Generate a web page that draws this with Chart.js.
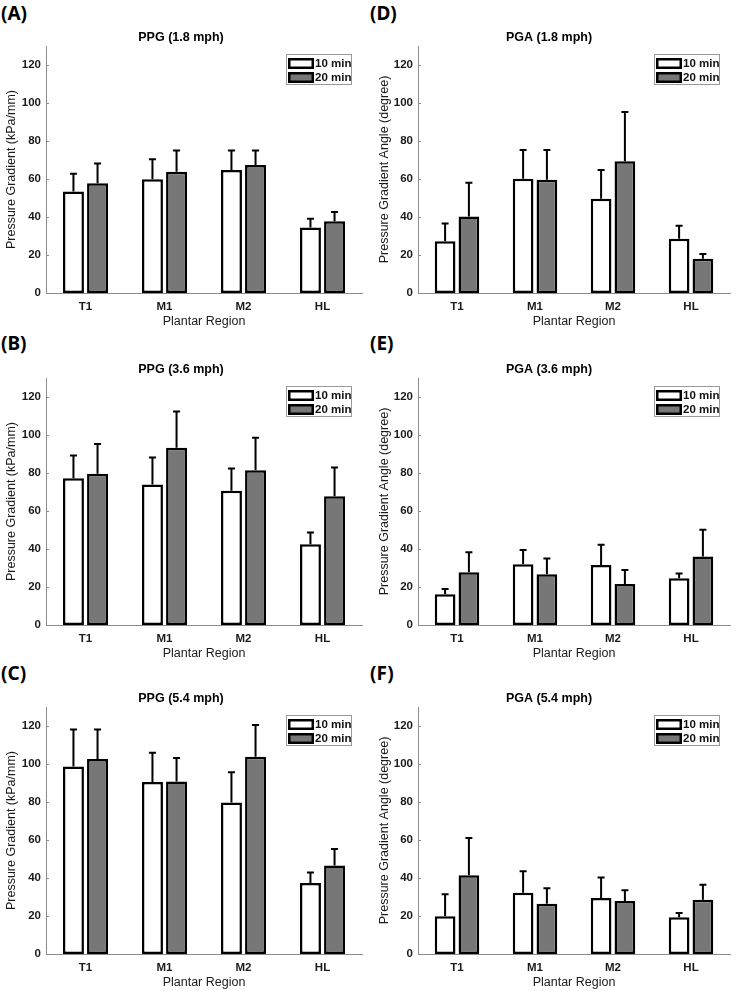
<!DOCTYPE html>
<html>
<head>
<meta charset="utf-8">
<script src="https://cdn.jsdelivr.net/npm/chart.js@4.4.1/dist/chart.umd.min.js"></script>
<style>
  html, body { margin: 0; padding: 0; background: #fff; }
  #page { position: relative; width: 736px; height: 991px; overflow: hidden; }
  .tag { position: absolute; font-family: 'Noto Sans', sans-serif; font-weight: bold; font-size: 19px; line-height: 22px; color: #000; }
  .panel { position: absolute; width: 368px; height: 306px; }
</style>
</head>
<body>
<div id="page">
  <div class="tag" style="left:1px;top:2px">(A)</div>
  <div class="tag" style="left:370px;top:2px">(D)</div>
  <div class="tag" style="left:1px;top:332px">(B)</div>
  <div class="tag" style="left:370px;top:332px">(E)</div>
  <div class="tag" style="left:1px;top:662px">(C)</div>
  <div class="tag" style="left:370px;top:662px">(F)</div>
  <div class="panel" style="left:0;top:24px"><canvas id="ppg18"></canvas></div>
  <div class="panel" style="left:368px;top:24px"><canvas id="pga18"></canvas></div>
  <div class="panel" style="left:0;top:356px"><canvas id="ppg36"></canvas></div>
  <div class="panel" style="left:368px;top:356px"><canvas id="pga36"></canvas></div>
  <div class="panel" style="left:0;top:685px"><canvas id="ppg54"></canvas></div>
  <div class="panel" style="left:368px;top:685px"><canvas id="pga54"></canvas></div>
</div>
<script>
const regions = ['T1', 'M1', 'M2', 'HL'];
const seriesNames = ['10 min', '20 min'];

// PPG (kPa/mm), mean and SD
const ppg18_10 = [53.4, 59.9, 64.8, 34.5];
const ppg18_10sd = [9.3, 10.5, 10.2, 4.6];
const ppg18_20 = [57.8, 63.8, 67.4, 37.8];
const ppg18_20sd = [10.4, 11.2, 7.6, 4.8];

const ppg36_10 = [77.3, 74.0, 70.6, 42.5];
const ppg36_10sd = [11.9, 14.2, 11.8, 6.2];
const ppg36_20 = [79.6, 93.3, 81.5, 67.8];
const ppg36_20sd = [15.6, 19.1, 17.1, 15.1];

const ppg54_10 = [98.7, 90.5, 79.8, 37.4];
const ppg54_10sd = [19.5, 15.4, 15.8, 5.5];
const ppg54_20 = [102.6, 90.8, 103.8, 46.6];
const ppg54_20sd = [15.6, 12.3, 16.7, 8.6];

// PGA (degree), mean and SD
const pga18_10 = [27.2, 60.1, 49.6, 28.6];
const pga18_10sd = [9.4, 15.1, 15.2, 6.8];
const pga18_20 = [40.3, 59.6, 69.4, 18.0];
const pga18_20sd = [17.7, 15.6, 25.9, 2.5];

const pga36_10 = [16.2, 32.0, 31.6, 24.6];
const pga36_10sd = [2.8, 7.5, 10.6, 2.5];
const pga36_20 = [27.8, 26.7, 21.6, 36.0];
const pga36_20sd = [10.5, 8.3, 7.4, 14.1];

const pga54_10 = [19.9, 32.2, 29.5, 19.3];
const pga54_10sd = [11.5, 11.4, 10.7, 2.3];
const pga54_20 = [41.5, 26.4, 27.9, 28.6];
const pga54_20sd = [19.5, 8.2, 5.7, 7.8];

const FONT = "'Liberation Sans', Arial, sans-serif";
const AXIS_GRAY = '#8c8c8c';

// error bars: upward only, with a small cap
const errorBars = {
  id: 'errorBars',
  afterDatasetsDraw(chart) {
    const ctx = chart.ctx;
    const y = chart.scales.y;
    ctx.save();
    ctx.strokeStyle = '#000';
    ctx.lineWidth = 2;
    chart.data.datasets.forEach((ds, i) => {
      chart.getDatasetMeta(i).data.forEach((bar, j) => {
        const top = y.getPixelForValue(ds.data[j] + ds.sd[j]);
        ctx.beginPath();
        ctx.moveTo(bar.x, bar.y);
        ctx.lineTo(bar.x, top);
        ctx.moveTo(bar.x - 3.5, top);
        ctx.lineTo(bar.x + 3.5, top);
        ctx.stroke();
      });
    });
    ctx.restore();
  }
};

// inward tick marks on the y axis (matlab style)
const innerTicks = {
  id: 'innerTicks',
  afterDraw(chart) {
    const ctx = chart.ctx;
    const y = chart.scales.y;
    const left = chart.chartArea.left;
    ctx.save();
    ctx.strokeStyle = AXIS_GRAY;
    ctx.lineWidth = 1;
    y.ticks.forEach((t, i) => {
      const py = Math.round(y.getPixelForTick(i)) + 0.5;
      ctx.beginPath();
      ctx.moveTo(left, py);
      ctx.lineTo(left + 3, py);
      ctx.stroke();
    });
    ctx.restore();
  }
};

// boxed legend in the top right corner of the plot
const boxLegend = {
  id: 'boxLegend',
  afterDraw(chart) {
    const ctx = chart.ctx;
    const a = chart.chartArea;
    const w = 66, h = 31;
    const x0 = a.right - 10 - w;
    const y0 = a.top + 8;
    ctx.save();
    ctx.fillStyle = '#fff';
    ctx.fillRect(x0, y0, w, h);
    ctx.strokeStyle = '#9a9a9a';
    ctx.lineWidth = 1;
    ctx.strokeRect(x0 + 0.5, y0 + 0.5, w - 1, h - 1);
    chart.data.datasets.forEach((ds, i) => {
      const sy = y0 + 4 + i * 14;
      ctx.fillStyle = ds.backgroundColor;
      ctx.fillRect(x0 + 2, sy, 26, 11);
      ctx.strokeStyle = '#000';
      ctx.lineWidth = 2.5;
      ctx.strokeRect(x0 + 3.25, sy + 1.25, 23.5, 8.5);
      ctx.fillStyle = '#111';
      ctx.font = 'bold 11.5px ' + FONT;
      ctx.textBaseline = 'middle';
      ctx.textAlign = 'left';
      ctx.fillText(ds.label, x0 + 29, sy + 6);
    });
    ctx.restore();
  }
};

function drawPanel(id, title, yTitle, m10, s10, m20, s20, leftWidth, yTitlePad) {
  new Chart(document.getElementById(id), {
    type: 'bar',
    data: {
      labels: regions,
      datasets: [{
        label: seriesNames[0],
        data: m10,
        sd: s10,
        backgroundColor: '#ffffff',
        borderColor: '#000',
        borderWidth: 2.5,
        borderSkipped: false
      }, {
        label: seriesNames[1],
        data: m20,
        sd: s20,
        backgroundColor: '#777777',
        borderColor: '#000',
        borderWidth: 2.5,
        borderSkipped: false
      }]
    },
    options: {
      responsive: true,
      maintainAspectRatio: false,
      animation: false,
      categoryPercentage: 0.61,
      barPercentage: 0.87,
      layout: { padding: { left: 0, right: 6, top: 0, bottom: 0 } },
      plugins: {
        legend: { display: false },
        tooltip: { enabled: false },
        title: {
          display: true,
          text: title,
          color: '#000',
          font: { family: FONT, size: 12.5, weight: 'bold' },
          padding: { top: 6, bottom: 1 }
        }
      },
      scales: {
        x: {
          grid: { display: false, drawTicks: false, tickLength: 0 },
          border: { color: AXIS_GRAY, width: 1 },
          ticks: { color: '#1a1a1a', font: { family: FONT, size: 11.5, weight: 'bold' }, padding: 7 },
          title: {
            display: true,
            text: 'Plantar Region',
            color: '#1a1a1a',
            font: { family: FONT, size: 12.5 },
            padding: { top: 0, bottom: 1 }
          },
          afterFit(scale) { scale.height = 37; }
        },
        y: {
          min: 0,
          max: 130,
          grid: { display: false, drawTicks: false, tickLength: 0 },
          border: { color: AXIS_GRAY, width: 1 },
          ticks: {
            stepSize: 20,
            includeBounds: false,
            color: '#1a1a1a',
            font: { family: FONT, size: 11.5, weight: 'bold' },
            padding: 5
          },
          title: {
            display: true,
            text: yTitle,
            color: '#1a1a1a',
            font: { family: FONT, size: 12.5 },
            padding: { top: yTitlePad, bottom: 0 }
          },
          afterFit(scale) { scale.width = leftWidth; }
        }
      }
    },
    plugins: [errorBars, innerTicks, boxLegend]
  });
}

const ppgTitle = 'Pressure Gradient (kPa/mm)';
const pgaTitle = 'Pressure Gradient Angle (degree)';

drawPanel('ppg18', 'PPG (1.8 mph)', ppgTitle, ppg18_10, ppg18_10sd, ppg18_20, ppg18_20sd, 46, 4.5);
drawPanel('ppg36', 'PPG (3.6 mph)', ppgTitle, ppg36_10, ppg36_10sd, ppg36_20, ppg36_20sd, 46, 4.5);
drawPanel('ppg54', 'PPG (5.4 mph)', ppgTitle, ppg54_10, ppg54_10sd, ppg54_20, ppg54_20sd, 46, 4.5);
drawPanel('pga18', 'PGA (1.8 mph)', pgaTitle, pga18_10, pga18_10sd, pga18_20, pga18_20sd, 50, 9.5);
drawPanel('pga36', 'PGA (3.6 mph)', pgaTitle, pga36_10, pga36_10sd, pga36_20, pga36_20sd, 50, 9.5);
drawPanel('pga54', 'PGA (5.4 mph)', pgaTitle, pga54_10, pga54_10sd, pga54_20, pga54_20sd, 50, 9.5);
</script>
</body>
</html>
